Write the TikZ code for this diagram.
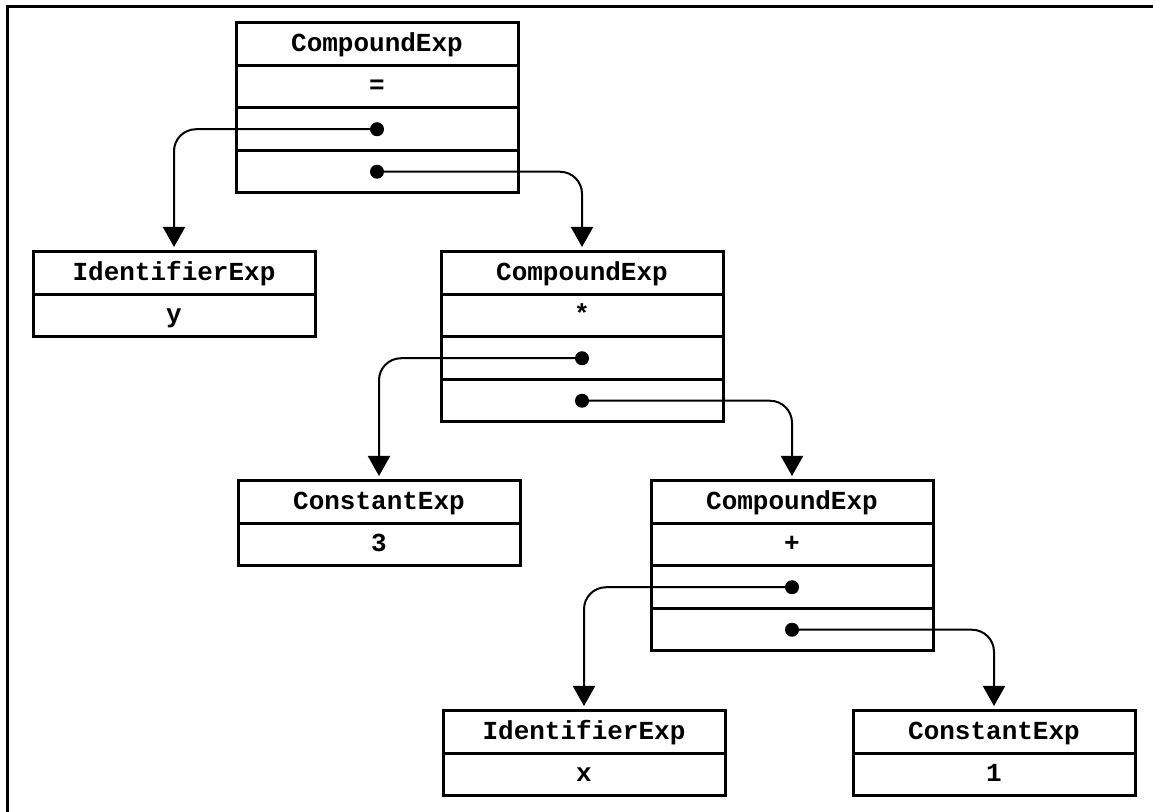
\documentclass[tikz,border=0pt]{standalone}
\usepackage{fontspec}
\setmonofont{Liberation Mono}
\usetikzlibrary{arrows.meta,positioning}
\tikzset{
  cell/.style={draw,line width=1.5pt,minimum width=141pt,minimum height=21.25pt,
    inner sep=0pt,outer sep=0pt,text height=9.5pt,text depth=2.5pt,
    font=\ttfamily\bfseries\fontsize{13}{13}\selectfont},
  ptr/.style={line width=1pt,rounded corners=11pt,
    -{Triangle[width=11pt,length=10pt]},shorten >=2.5pt}
}

\begin{document}
\begin{tikzpicture}[x=0.5pt,y=-0.5pt]
 \useasboundingbox (0,0) rectangle (1153,812);
 \draw[line width=1.5pt] (1153,7) -- (7,7) -- (7,812);
 %NODES
 \node[cell] (cmpA) at (377,44.25) {CompoundExp};
 \node[cell,below=0pt of cmpA] (cmpAop) {=};
 \node[cell,below=0pt of cmpAop] (cmpAl) {};
 \node[cell,below=0pt of cmpAl] (cmpAr) {};

 \node[cell] (idY) at (174,273.25) {IdentifierExp};
 \node[cell,below=0pt of idY] (idYval) {y};

 \node[cell] (cmpB) at (582,273.25) {CompoundExp};
 \node[cell,below=0pt of cmpB] (cmpBop) {*};
 \node[cell,below=0pt of cmpBop] (cmpBl) {};
 \node[cell,below=0pt of cmpBl] (cmpBr) {};

 \node[cell] (conT) at (379,502.25) {ConstantExp};
 \node[cell,below=0pt of conT] (conTval) {3};

 \node[cell] (cmpC) at (792,502.25) {CompoundExp};
 \node[cell,below=0pt of cmpC] (cmpCop) {+};
 \node[cell,below=0pt of cmpCop] (cmpCl) {};
 \node[cell,below=0pt of cmpCl] (cmpCr) {};

 \node[cell] (idX) at (584,732.25) {IdentifierExp};
 \node[cell,below=0pt of idX] (idXval) {x};

 \node[cell] (conO) at (994,732.25) {ConstantExp};
 \node[cell,below=0pt of conO] (conOval) {1};
 %EDGES
 \draw[ptr] (cmpAl.center) -| (idY.north);
 \draw[ptr] (cmpAr.center) -| (cmpB.north);
 \draw[ptr] (cmpBl.center) -| (conT.north);
 \draw[ptr] (cmpBr.center) -| (cmpC.north);
 \draw[ptr] (cmpCl.center) -| (idX.north);
 \draw[ptr] (cmpCr.center) -| (conO.north);
 \foreach \c in {cmpAl,cmpAr,cmpBl,cmpBr,cmpCl,cmpCr}
   \fill (\c.center) circle (3.5pt);
\end{tikzpicture}
\end{document}
